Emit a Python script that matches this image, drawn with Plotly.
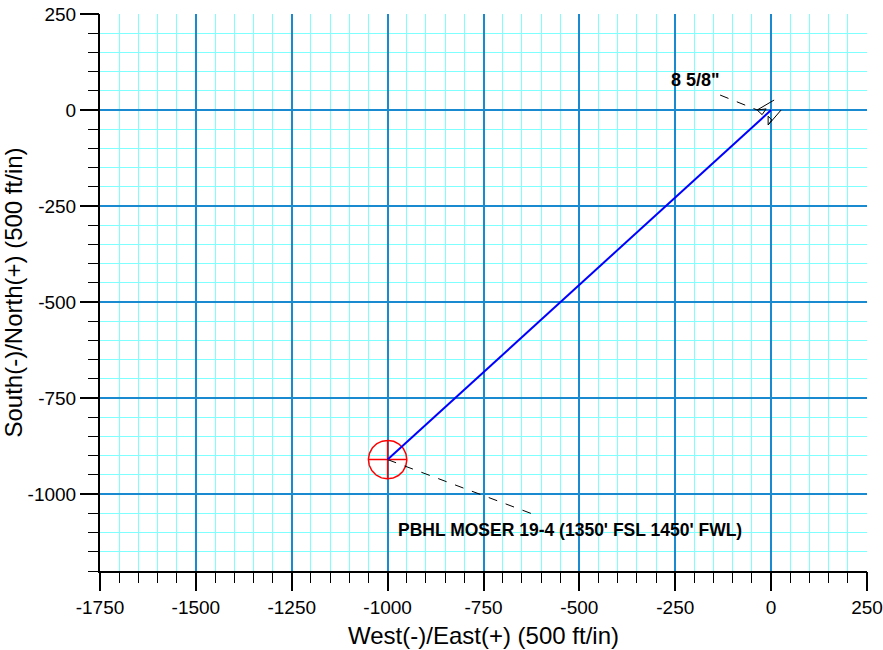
import plotly.graph_objects as go
import numpy as np

# Well path (West(-)/East(+), South(-)/North(+))
path_x = [0, -1000]
path_y = [0, -910]

# Target (PBHL) circle
target_x = -1000
target_y = -910
target_r = 50
target_label = "PBHL MOSER 19-4 (1350' FSL 1450' FWL)"
target_label_pos = (-524, -1094)
target_leader_x = [-1000, -621]
target_leader_y = [-910, -1052]

# Casing marker
casing_label = '8 5/8"'
casing_label_pos = (-198, 78)
casing_leader_x = [-133, -36]
casing_leader_y = [39, 0]
casing_mark1_x = [7.8, -36.5, -13, -23.5, -36.5]
casing_mark1_y = [26, 0, 3, -12, 0]
casing_mark2_x = [26, -7.8, -7.8, 2, -7.8]
casing_mark2_y = [0, -39, -16, -26, -39]

x_range = [-1750, 250]
y_range = [-1200, 250]
x_ticks = [-1750, -1500, -1250, -1000, -750, -500, -250, 0, 250]
y_ticks = [250, 0, -250, -500, -750, -1000]
minor_step = 50

major_grid = "rgb(25,138,208)"
minor_grid = "rgb(128,255,255)"
font = "Liberation Sans, Arial, sans-serif"

fig = go.Figure()

# circle
t = np.linspace(0, 2 * np.pi, 181)
fig.add_trace(go.Scatter(x=target_x + target_r * np.cos(t), y=target_y + target_r * np.sin(t),
                         mode="lines", line=dict(color="red", width=1.5), hoverinfo="skip"))
fig.add_trace(go.Scatter(x=[target_x - target_r, target_x + target_r, None, target_x, target_x],
                         y=[target_y, target_y, None, target_y - target_r, target_y + target_r],
                         mode="lines", line=dict(color="red", width=1.5), hoverinfo="skip"))
# leaders
fig.add_trace(go.Scatter(x=target_leader_x, y=target_leader_y, mode="lines",
                         line=dict(color="black", width=1, dash="dash"), hoverinfo="skip"))
fig.add_trace(go.Scatter(x=casing_leader_x, y=casing_leader_y, mode="lines",
                         line=dict(color="black", width=1, dash="dash"), hoverinfo="skip"))
# casing marks
fig.add_trace(go.Scatter(x=casing_mark1_x, y=casing_mark1_y, mode="lines",
                         line=dict(color="black", width=1), hoverinfo="skip"))
fig.add_trace(go.Scatter(x=casing_mark2_x, y=casing_mark2_y, mode="lines",
                         line=dict(color="black", width=1), hoverinfo="skip"))
# well path
fig.add_trace(go.Scatter(x=path_x, y=path_y, mode="lines",
                         line=dict(color="rgb(0,0,255)", width=2), hoverinfo="skip"))
# invisible trace to activate the major/label axes
fig.add_trace(go.Scatter(x=[None], y=[None], xaxis="x2", yaxis="y2", mode="markers",
                         hoverinfo="skip"))

fig.add_annotation(x=target_label_pos[0], y=target_label_pos[1], text="<b>%s</b>" % target_label,
                   showarrow=False, font=dict(family=font, size=17.5, color="black"))
fig.add_annotation(x=casing_label_pos[0], y=casing_label_pos[1], text="<b>%s</b>" % casing_label,
                   showarrow=False, font=dict(family=font, size=18, color="black"))

# primary axes: minor (50 ft) grid and minor ticks
minor_axis = dict(
    tickmode="linear", tick0=0, dtick=minor_step, showticklabels=False,
    showgrid=True, gridcolor=minor_grid, gridwidth=1,
    zeroline=False, showline=True, linecolor="black", linewidth=2,
    ticks="outside", ticklen=10, tickwidth=1, tickcolor="black",
    automargin=False,
)
# overlay axes: major (250 ft) grid, ticks and labels
major_axis = dict(
    tickmode="array", showgrid=True, gridcolor=major_grid, gridwidth=1.5,
    zeroline=False, showline=False,
    ticks="outside", ticklen=19, tickwidth=2, tickcolor="black",
    tickfont=dict(family=font, size=19, color="black"),
    automargin=False,
)

fig.update_layout(
    template="none",
    width=883, height=650,
    margin=dict(l=100, r=16, t=14, b=79),
    plot_bgcolor="white", paper_bgcolor="white",
    showlegend=False,
    xaxis=dict(range=x_range, **minor_axis),
    yaxis=dict(range=y_range, **minor_axis),
    xaxis2=dict(range=x_range, overlaying="x", anchor="y2", side="bottom",
                tickvals=x_ticks, ticktext=[str(v) for v in x_ticks],
                title=dict(text="West(-)/East(+) (500 ft/in)",
                           font=dict(family=font, size=24, color="black"), standoff=10),
                **major_axis),
    yaxis2=dict(range=y_range, overlaying="y", anchor="x2", side="left",
                tickvals=y_ticks, ticktext=[str(v) for v in y_ticks],
                title=dict(text="South(-)/North(+) (500 ft/in)",
                           font=dict(family=font, size=24, color="black"), standoff=8),
                **major_axis),
)

fig.write_html("out.html", config={"displayModeBar": False},
               post_script="document.body.style.margin='0';document.body.style.overflow='hidden';")
